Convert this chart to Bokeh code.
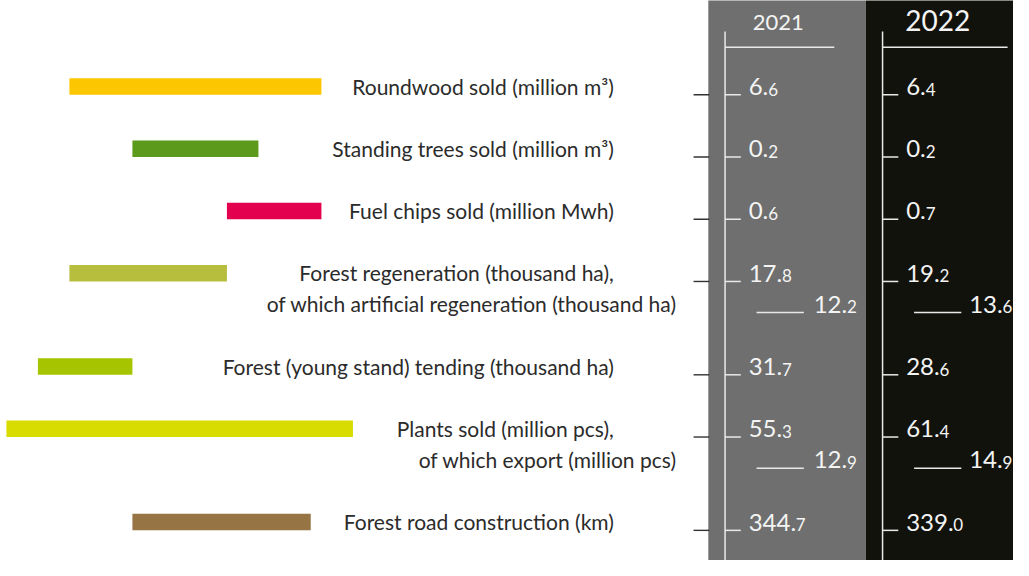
from bokeh.plotting import figure
from bokeh.models import Range1d
from bokeh.core.properties import value
from bokeh.embed import file_html
from bokeh.resources import INLINE

# ---------------- data ----------------
label_main = [
    "Roundwood sold (million m³)",
    "Standing trees sold (million m³)",
    "Fuel chips sold (million Mwh)",
    "Forest regeneration (thousand ha),",
    "Forest (young stand) tending (thousand ha)",
    "Plants sold (million pcs),",
    "Forest road construction (km)",
]
label_sub = [None, None, None,
             "of which artificial regeneration (thousand ha)", None,
             "of which export (million pcs)", None]
years = ["2021", "2022"]
values_2021 = [6.6, 0.2, 0.6, 17.8, 31.7, 55.3, 344.7]
values_2022 = [6.4, 0.2, 0.7, 19.2, 28.6, 61.4, 339.0]
sub_2021 = [None, None, None, 12.2, None, 12.9, None]
sub_2022 = [None, None, None, 13.6, None, 14.9, None]
# decorative bars (grid units)
bar_from = [2, 4, 7, 2, 1, 0, 4]
bar_to = [10, 8, 10, 7, 4, 11, 9.66]

# ---------------- styles ----------------
bar_colors = ["#fcc700", "#5b9a1a", "#e2004f", "#b7bd3c", "#a6c500", "#d8dc00", "#967444"]
col_fill = ["#6e6f6e", "#12120d"]
FONT = "Lato"
TXT = "#2b2b2b"
LINE = "#e9e9e9"
VAL = "#f4f4f4"
LSIZE = 21
VSIZE, DSIZE = 24, 17
DW, PW = 0.58 * VSIZE, 0.25 * VSIZE
KMID = 0.37  # middle-to-baseline ratio used to align small decimals

# ---------------- layout ----------------
W, H = 1013, 560
RW, RH = 1029, 576  # reference coordinate space
LINE_H = 32
TOP = 89
lines, k = [], 0
for s in label_sub:
    lines.append(k)
    k += 3 if s else 2
row_y = [TOP + LINE_H * l for l in lines]

p = figure(width=W, height=H, x_range=Range1d(0, RW), y_range=Range1d(RH, 0),
           output_backend="svg", toolbar_location=None,
           x_axis_location=None, y_axis_location=None, min_border=0)
p.outline_line_color = None
p.grid.visible = False
p.background_fill_color = "white"
p.border_fill_color = "white"
p.extra_x_ranges = {"grid": Range1d(-6 / 32, (RW - 6) / 32)}

# year columns
col_left = [719, 879]
col_right = [879, RW + 20]
p.quad(left=col_left, right=col_right, top=-10, bottom=RH + 10,
       fill_color=col_fill, line_color=None)

# decorative bars
p.hbar(y=[y - 0.5 for y in row_y], left=bar_from, right=bar_to, height=17,
       x_range_name="grid", fill_color=bar_colors, line_color=None)

# labels
p.text(x=[623] * len(label_main), y=[y - 1 for y in row_y], text=label_main,
       text_font=value(FONT), text_font_size=f"{LSIZE}px", text_color=TXT,
       text_align="right", text_baseline="middle")
sub_idx = [i for i, s in enumerate(label_sub) if s]
p.text(x=[687] * len(sub_idx), y=[row_y[i] + LINE_H - 1 for i in sub_idx],
       text=[label_sub[i] for i in sub_idx],
       text_font=value(FONT), text_font_size=f"{LSIZE}px", text_color=TXT,
       text_align="right", text_baseline="middle")

# left ticks
p.segment(x0=[704] * len(row_y), x1=[720] * len(row_y), y0=[y + 8 for y in row_y],
          y1=[y + 8 for y in row_y], line_color="#333333", line_width=1.4)

axis_x = [736, 896]
head_x = [790, 952]
head_y = [23, 21]
head_size = ["22px", "28px"]
head_end = [847, 1023]
sub_x = [826, 984]
dec_dy = KMID * (VSIZE - DSIZE)

for c, (vals, subs) in enumerate([(values_2021, sub_2021), (values_2022, sub_2022)]):
    ax = axis_x[c]
    # header
    p.text(x=[head_x[c]], y=[head_y[c]], text=[years[c]], text_font=value(FONT),
           text_font_size=head_size[c], text_color=VAL,
           text_align="center", text_baseline="middle")
    p.segment(x0=[ax], x1=[head_end[c]], y0=[48], y1=[48], line_color=LINE, line_width=1.5)
    p.segment(x0=[ax], x1=[ax], y0=[32], y1=[RH + 10], line_color=LINE, line_width=1.5)
    # row ticks
    p.segment(x0=[ax] * len(row_y), x1=[ax + 16] * len(row_y),
              y0=[y + 8 for y in row_y], y1=[y + 8 for y in row_y],
              line_color=LINE, line_width=1.5)
    # main values
    s = [f"{v:.1f}" for v in vals]
    mains = [t[:-1] for t in s]
    decs = [t[-1] for t in s]
    p.text(x=[ax + 24] * len(s), y=[y - 0.5 for y in row_y], text=mains,
           text_font=value(FONT), text_font_size=f"{VSIZE}px", text_color=VAL,
           text_baseline="middle")
    p.text(x=[ax + 24 + (len(m) - 1) * DW + PW for m in mains],
           y=[y - 0.5 + dec_dy for y in row_y],
           text=decs, text_font=value(FONT), text_font_size=f"{DSIZE}px", text_color=VAL,
           text_baseline="middle")
    # sub values
    si = [i for i, v in enumerate(subs) if v is not None]
    sy = [row_y[i] + LINE_H for i in si]
    ss = [f"{subs[i]:.1f}" for i in si]
    smain = [t[:-1] for t in ss]
    sdec = [t[-1] for t in ss]
    p.segment(x0=[ax + 32] * len(si), x1=[ax + 80] * len(si),
              y0=[y + 8 for y in sy], y1=[y + 8 for y in sy], line_color=LINE, line_width=1.5)
    p.text(x=[sub_x[c]] * len(si), y=[y - 0.5 for y in sy], text=smain,
           text_font=value(FONT), text_font_size=f"{VSIZE}px", text_color=VAL,
           text_baseline="middle")
    p.text(x=[sub_x[c] + (len(m) - 1) * DW + PW for m in smain],
           y=[y - 0.5 + dec_dy for y in sy],
           text=sdec, text_font=value(FONT), text_font_size=f"{DSIZE}px", text_color=VAL,
           text_baseline="middle")

open("out.html", "w").write(file_html(p, INLINE))
